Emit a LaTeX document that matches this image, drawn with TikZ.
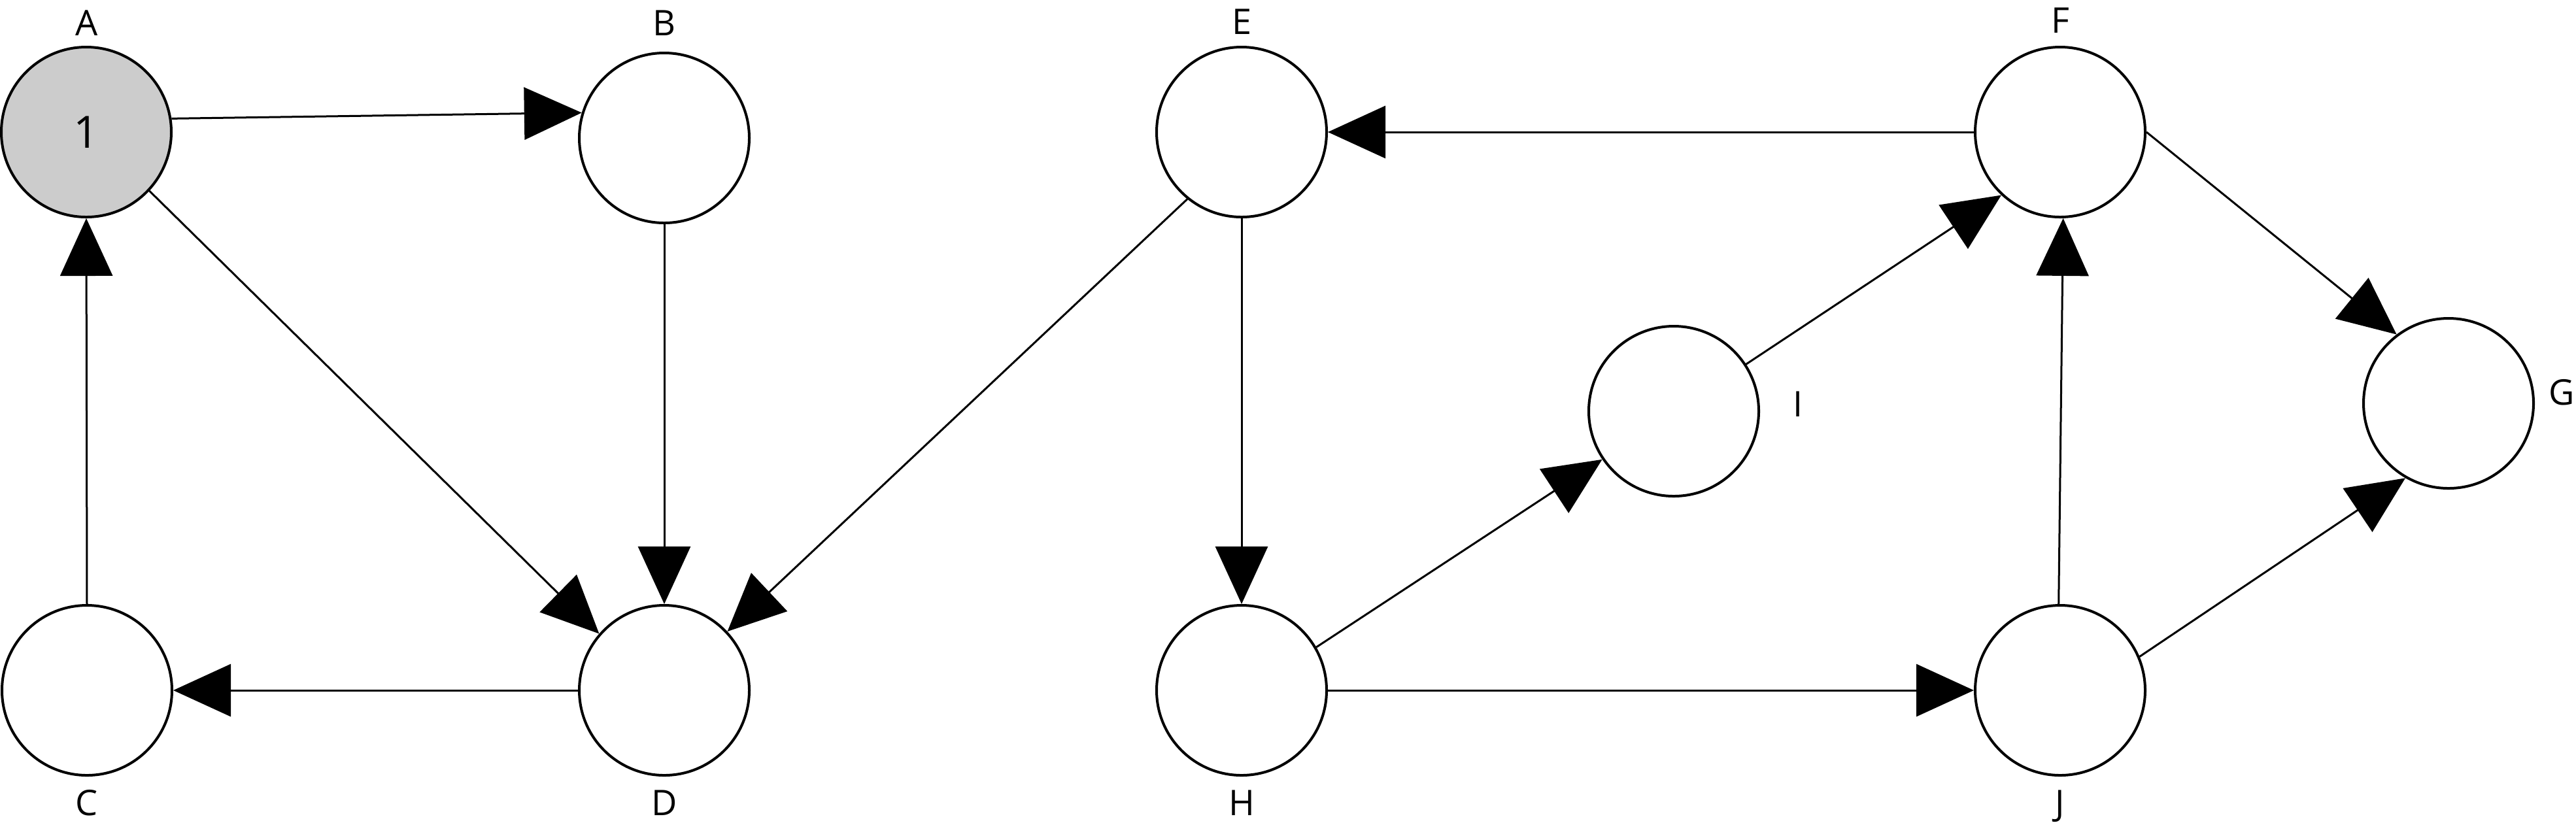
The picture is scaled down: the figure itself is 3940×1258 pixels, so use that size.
\documentclass[tikz,border=0pt]{standalone}
\usepackage{fontspec}
\setmainfont{Open Sans}
\usetikzlibrary{arrows.meta}
\begin{document}
\begin{tikzpicture}[x=0.25pt,y=-0.25pt,
  vert/.style={circle,draw=black,line width=1pt,minimum size=65pt,inner sep=0pt,fill=white},
  lbl/.style={anchor=base,inner sep=0pt,font=\fontsize{13.5}{16}\selectfont},
  edge/.style={line width=0.75pt,-{Triangle[length=22pt,width=20pt]}}]
\useasboundingbox (0,0) rectangle (3940,1258);

\node[vert,fill=black!20] (A) at (132,202) {\fontsize{17}{20}\selectfont 1};
\node[vert] (B) at (1016,211) {};
\node[vert] (C) at (133,1056) {};
\node[vert] (D) at (1016,1056) {};
\node[vert] (E) at (1899,202) {};
\node[vert] (F) at (3151,202) {};
\node[vert] (G) at (3745,617) {};
\node[vert] (H) at (1899,1056) {};
\node[vert] (I) at (2560,629) {};
\node[vert] (J) at (3151,1056) {};

\node[lbl] (lA) at (133,54) {A};
\node[lbl] (lB) at (1016,54) {B};
\node[lbl] (lE) at (1899,52) {E};
\node[lbl] (lF) at (3151,50) {F};
\node[lbl] (lC) at (133,1247) {C};
\node[lbl] (lD) at (1016,1247) {D};
\node[lbl] (lH) at (1899,1247) {H};
\node[lbl] (lJ) at (3151,1247) {J};
\node[lbl] (lI) at (2750,637) {I};
\node[lbl] (lG) at (3918,619) {G};

\draw[edge] (A.9) -- (B.163);
\draw[edge] (A.-43) -- (D.139);
\draw[edge] (B.south) -- (D.north);
\draw[edge] (D.west) -- (C.east);
\draw[edge] (C.north) -- (A.south);
\draw[edge] (E.-129) -- (D.43);
\draw[edge] (E.south) -- (H.north);
\draw[edge] (F.west) -- (E.east);
\draw[edge] (H.east) -- (J.west);
\draw[edge] (H.30) -- (I.214);
\draw[edge] (I.33) -- (F.227);
\draw[edge] (J.91) -- (F.-88);
\draw[edge] (J.23) -- (G.240);
\draw[edge] (F.east) -- (G.127);
\end{tikzpicture}
\end{document}
